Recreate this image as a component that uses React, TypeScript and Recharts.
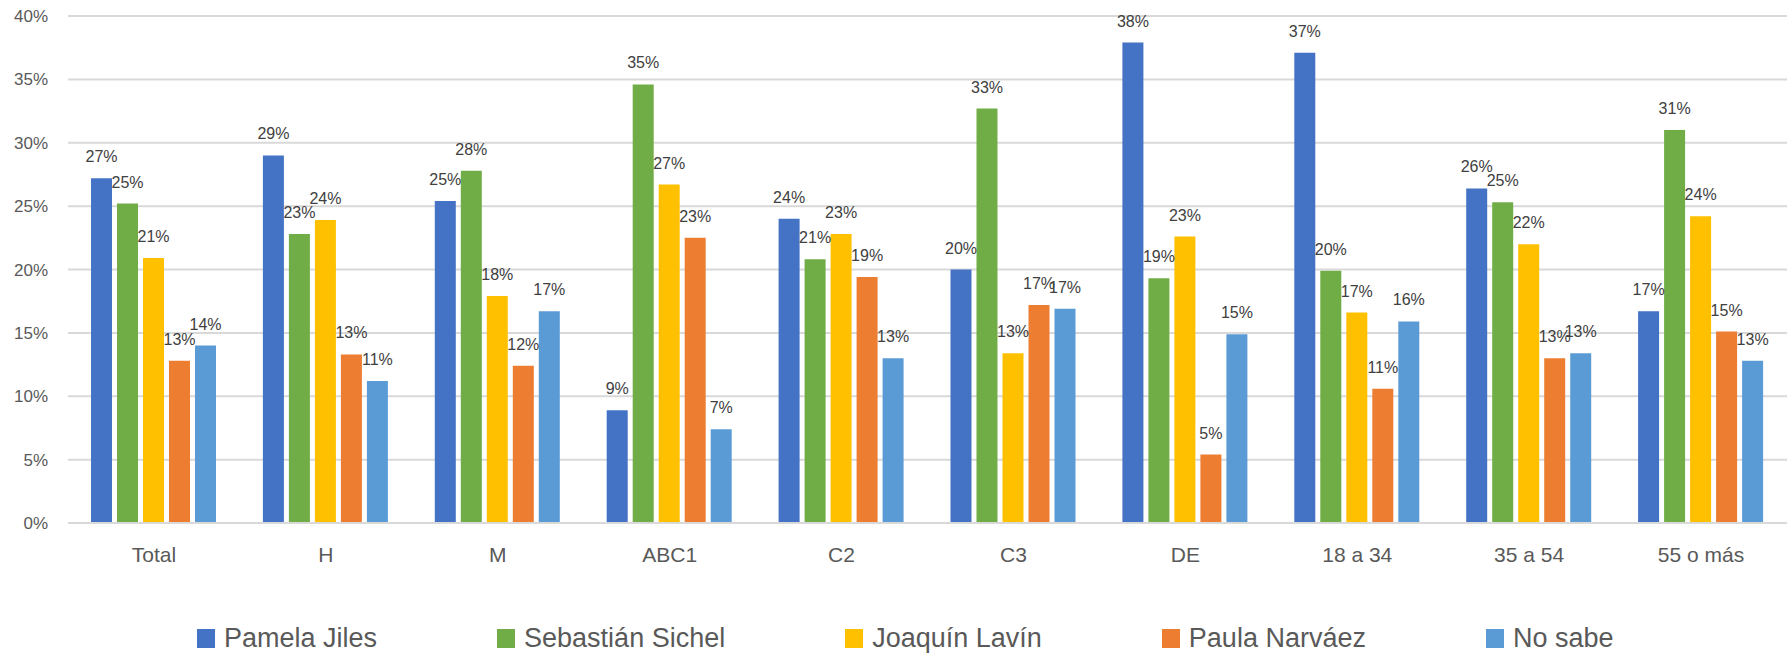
import { BarChart, Bar, XAxis, YAxis, CartesianGrid, Legend, LabelList } from 'recharts';

const categories = ['Total', 'H', 'M', 'ABC1', 'C2', 'C3', 'DE', '18 a 34', '35 a 54', '55 o más'];
const pamela = [27.2, 29.0, 25.4, 8.9, 24.0, 20.0, 37.9, 37.1, 26.4, 16.7];
const sichel = [25.2, 22.8, 27.8, 34.6, 20.8, 32.7, 19.3, 19.9, 25.3, 31.0];
const lavin = [20.9, 23.9, 17.9, 26.7, 22.8, 13.4, 22.6, 16.6, 22.0, 24.2];
const narvaez = [12.8, 13.3, 12.4, 22.5, 19.4, 17.2, 5.4, 10.6, 13.0, 15.1];
const noSabe = [14.0, 11.2, 16.7, 7.4, 13.0, 16.9, 14.9, 15.9, 13.4, 12.8];
const yTicks = [0, 5, 10, 15, 20, 25, 30, 35, 40];

const series = [
  { key: 'pamela', name: 'Pamela Jiles', color: '#4472C4', values: pamela },
  { key: 'sichel', name: 'Sebastián Sichel', color: '#70AD47', values: sichel },
  { key: 'lavin', name: 'Joaquín Lavín', color: '#FFC000', values: lavin },
  { key: 'narvaez', name: 'Paula Narváez', color: '#ED7D31', values: narvaez },
  { key: 'noSabe', name: 'No sabe', color: '#5B9BD5', values: noSabe },
];

const data = categories.map((cat, i) => {
  const row: Record<string, string | number> = { cat };
  series.forEach((s) => {
    row[s.key] = s.values[i];
  });
  return row;
});

const font = '"Liberation Sans", Arial, sans-serif';

// legend drawn in series order (recharts sorts payload by name otherwise)
const renderLegend = () => (
  <div
    style={{
      display: 'flex',
      alignItems: 'center',
      height: 30,
      paddingLeft: 197,
      fontFamily: font,
      fontSize: 27,
      color: '#595959',
    }}
  >
    {series.map((s) => (
      <div key={s.key} style={{ display: 'flex', alignItems: 'center', marginRight: 120 }}>
        <span style={{ width: 18, height: 19, background: s.color, marginRight: 9, display: 'inline-block' }} />
        <span>{s.name}</span>
      </div>
    ))}
  </div>
);

export default function App() {
  return (
    <div style={{ position: 'absolute', left: 0, top: 0, background: '#fff' }}>
      <BarChart
        width={1791}
        height={653}
        data={data}
        margin={{ top: 16, right: 4, left: 0, bottom: 50 }}
        barSize={21}
        barGap={5}
      >
        <CartesianGrid vertical={false} stroke="#D9D9D9" strokeWidth={2} />
        <XAxis
          dataKey="cat"
          axisLine={{ stroke: '#D9D9D9', strokeWidth: 2 }}
          tickLine={false}
          tickSize={0}
          tickMargin={24}
          height={50}
          interval={0}
          tick={{ fill: '#595959', fontSize: 21, fontFamily: font }}
        />
        <YAxis
          width={68}
          domain={[0, 40]}
          ticks={yTicks}
          axisLine={false}
          tickLine={false}
          tickSize={0}
          tickMargin={20}
          tickFormatter={(v) => `${v}%`}
          tick={{ fill: '#595959', fontSize: 17, fontFamily: font }}
        />
        <Legend verticalAlign="bottom" content={renderLegend} wrapperStyle={{ bottom: 0, left: 0 }} />
        {series.map((s) => (
          <Bar key={s.key} dataKey={s.key} name={s.name} fill={s.color} isAnimationActive={false}>
            <LabelList
              dataKey={s.key}
              position="top"
              offset={16}
              formatter={(v: any) => `${Math.round(Number(v))}%`}
              style={{ fill: '#404040', fontSize: 16, fontFamily: font }}
            />
          </Bar>
        ))}
      </BarChart>
    </div>
  );
}
